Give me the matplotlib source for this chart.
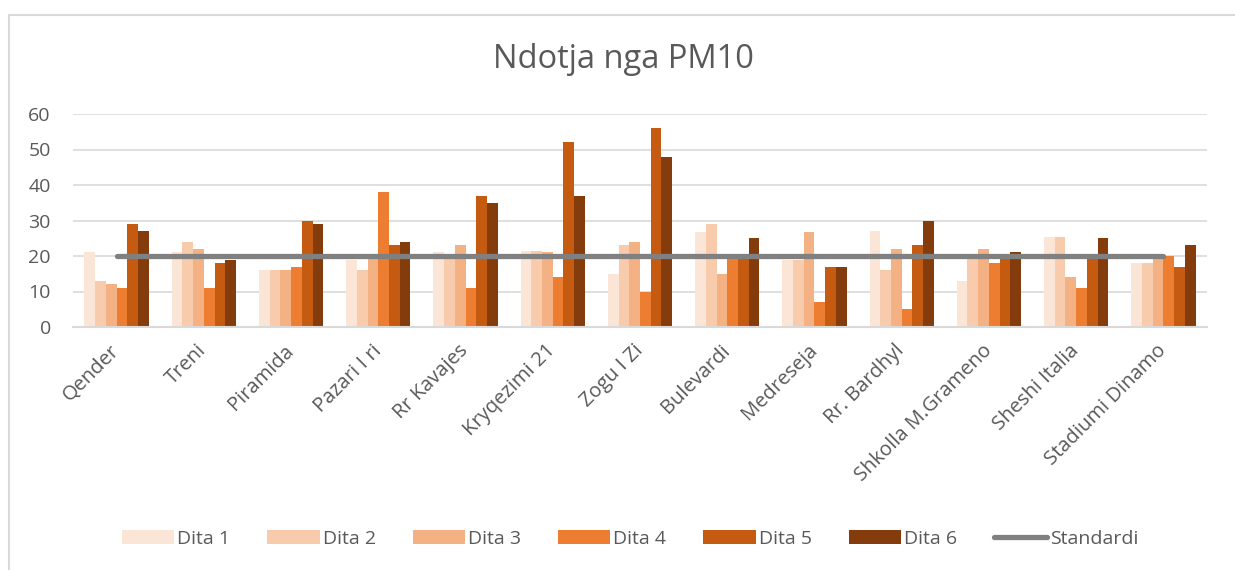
import numpy as np
import matplotlib.pyplot as plt
from matplotlib.patches import Rectangle

plt.rcParams['font.family'] = ['Open Sans', 'DejaVu Sans']

locations = ["Qender", "Treni", "Piramida", "Pazari I ri", "Rr Kavajes", "Kryqezimi 21",
             "Zogu I Zi", "Bulevardi", "Medreseja", "Rr. Bardhyl", "Shkolla M.Grameno",
             "Sheshi Italia", "Stadiumi Dinamo"]
dita1 = [21, 21, 16, 19, 21, 21.3, 15, 26.7, 19, 27, 13, 25.3, 18]
dita2 = [13, 24, 16, 16, 20, 21.4, 23, 29, 19, 16, 20, 25.3, 18]
dita3 = [12, 22, 16, 20, 23, 21, 24, 15, 26.7, 22, 22, 14, 19.5]
dita4 = [11, 11, 17, 38, 11, 14, 10, 19.5, 7, 5, 18, 11, 20]
dita5 = [29, 18, 30, 23, 37, 52, 56, 19.5, 17, 23, 19.5, 19.5, 17]
dita6 = [27, 19, 29, 24, 35, 37, 48, 25, 17, 30, 21, 25, 23]
standardi = [20] * len(locations)

series_names = ["Dita 1", "Dita 2", "Dita 3", "Dita 4", "Dita 5", "Dita 6"]
colors = ["#FBE5D6", "#F8CBAD", "#F4B183", "#ED7D31", "#C55A11", "#843C0C"]
text_color = "#595959"


def main():
    series = [dita1, dita2, dita3, dita4, dita5, dita6]
    x = np.arange(len(locations))
    width = 0.123

    fig = plt.figure(figsize=(12.35, 5.7), dpi=100)
    ax = fig.add_axes([73 / 1235, 1 - 327 / 570, 1134 / 1235, 213 / 570])

    handles = []
    for i, (vals, name, c) in enumerate(zip(series, series_names, colors)):
        h = ax.bar(x + (i - 2.5) * width, vals, width, color=c, label=name, zorder=2)
        handles.append(h)
    line, = ax.plot(x, standardi, color="#808080", lw=3.8, solid_capstyle="round",
                    label="Standardi", zorder=3)
    handles.append(line)

    ax.set_xlim(-0.5, len(locations) - 0.5)
    ax.set_ylim(0, 60)
    ax.set_yticks(range(0, 61, 10))
    ax.yaxis.grid(True, color="#D9D9D9", lw=1.2, zorder=0)
    ax.set_axisbelow(True)
    for s in ["top", "right", "left"]:
        ax.spines[s].set_visible(False)
    ax.spines["bottom"].set_color("#D9D9D9")
    ax.spines["bottom"].set_linewidth(1.5)
    ax.tick_params(axis="both", length=0, labelsize=14, colors=text_color)
    ax.tick_params(axis="y", pad=16)
    ax.set_xticks(x)
    ax.set_xticklabels(locations, rotation=45, ha="right", va="center",
                       rotation_mode="anchor", fontsize=14.5)
    ax.tick_params(axis="x", pad=15)

    fig.text(0.5045, 1 - 60 / 570, "Ndotja nga PM10", ha="center", va="center",
             fontsize=23.5, color=text_color)

    leg = fig.legend(handles=handles, loc="center", bbox_to_anchor=(0.51, 1 - 539 / 570),
                     ncol=7, frameon=False, fontsize=14, handlelength=2.7,
                     handleheight=0.75, handletextpad=0.15, columnspacing=1.9)
    for t in leg.get_texts():
        t.set_color(text_color)

    # chart border
    fig.add_artist(Rectangle((9 / 1235, -0.1), 1.2, 1.1 - 15 / 570, transform=fig.transFigure,
                             fill=False, edgecolor="#D9D9D9", lw=1.5))

    plt.savefig("out.png", dpi=100)


if __name__ == "__main__":
    main()
